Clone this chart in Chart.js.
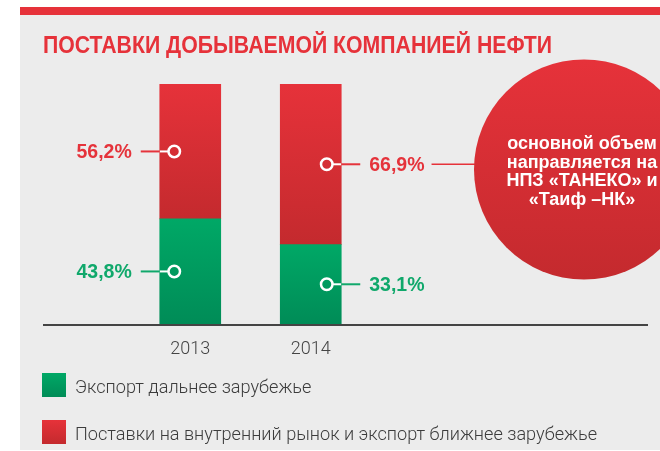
<!DOCTYPE html>
<html>
<head>
<meta charset="utf-8">
<script src="https://cdn.jsdelivr.net/npm/chart.js@4"></script>
<style>
  html, body { margin: 0; padding: 0; background: #fff; }
  canvas { display: block; }
</style>
</head>
<body>
<canvas id="chart" width="660" height="451"></canvas>
<script>
// === Data ===
const years = ['2013', '2014'];
const exportFar = [43.8, 33.1];
const domesticNear = [56.2, 66.9];
const seriesNames = ['Экспорт дальнее зарубежье', 'Поставки на внутренний рынок и экспорт ближнее зарубежье'];
const chartTitle = 'ПОСТАВКИ ДОБЫВАЕМОЙ КОМПАНИЕЙ НЕФТИ';
const calloutLines = ['основной объем', 'направляется на', 'НПЗ «ТАНЕКО» и', '«Таиф –НК»'];

// === Colours ===
const RED_TOP = '#e6323a', RED_BOTTOM = '#c42a2e', RED_TEXT = '#e5333b';
const GREEN_TOP = '#00a866', GREEN_BOTTOM = '#008c57', GREEN_TEXT = '#10a86b';
const seriesColors = [[GREEN_TOP, GREEN_BOTTOM], [RED_TOP, RED_BOTTOM]];
const textColors = [GREEN_TEXT, RED_TEXT];

const fmt = v => v.toFixed(1).replace('.', ',') + '%';

// gradient for one stacked segment, top to bottom of that segment
function segmentFill(c) {
    const [top, bottom] = seriesColors[c.datasetIndex];
    const chart = c.chart;
    if (c.type !== 'data' || !chart.chartArea) return top;
    const y = chart.scales.y;
    const i = c.dataIndex;
    const start = c.datasetIndex === 0 ? 0 : exportFar[i];
    const end = start + chart.data.datasets[c.datasetIndex].data[i];
    const g = chart.ctx.createLinearGradient(0, y.getPixelForValue(end), 0, y.getPixelForValue(start));
    g.addColorStop(0, top);
    g.addColorStop(1, bottom);
    return g;
}

// draws text squeezed/stretched horizontally by a factor
function scaledText(ctx, text, x, y, sx) {
    ctx.save();
    ctx.translate(x, y);
    ctx.scale(sx, 1);
    ctx.fillText(text, 0, 0);
    ctx.restore();
}

const decor = {
    id: 'decor',
    beforeDraw(chart) {
        const ctx = chart.ctx;
        ctx.save();
        ctx.fillStyle = '#ffffff';
        ctx.fillRect(0, 0, chart.width, chart.height);
        ctx.fillStyle = '#ececec';
        ctx.fillRect(20, 15, chart.width - 20, chart.height - 16);
        ctx.fillStyle = RED_TOP;
        ctx.fillRect(20, 7, chart.width - 20, 8);

        // title
        ctx.fillStyle = RED_TOP;
        ctx.font = 'bold 23px "Liberation Sans", Arial, sans-serif';
        ctx.textBaseline = 'alphabetic';
        scaledText(ctx, chartTitle, 43, 53, 509 / ctx.measureText(chartTitle).width);
        ctx.restore();
    },
    afterDatasetsDraw(chart) {
        const ctx = chart.ctx;
        const xs = chart.scales.x, ys = chart.scales.y;
        const area = chart.chartArea;
        ctx.save();

        // baseline axis
        ctx.strokeStyle = '#444';
        ctx.lineWidth = 2;
        ctx.beginPath();
        ctx.moveTo(43, area.bottom + 1);
        ctx.lineTo(648, area.bottom + 1);
        ctx.stroke();

        // value callouts
        const labelPoints = [];
        chart.data.datasets.forEach((ds, d) => {
            const meta = chart.getDatasetMeta(d);
            ds.data.forEach((v, i) => {
                const bar = meta.data[i];
                const start = d === 0 ? 0 : exportFar[i];
                const y = ys.getPixelForValue(start + v / 2);
                const side = i === 0 ? -1 : 1;
                const cx = xs.getPixelForValue(i) + side * 16;
                const edge = bar.x + side * bar.width / 2;
                const r = 5.75;

                ctx.lineWidth = 2;
                ctx.strokeStyle = '#fff';
                ctx.beginPath();
                ctx.moveTo(cx + side * r, y);
                ctx.lineTo(edge, y);
                ctx.stroke();

                ctx.strokeStyle = textColors[d];
                ctx.beginPath();
                ctx.moveTo(edge, y);
                ctx.lineTo(edge + side * 19, y);
                ctx.stroke();

                ctx.lineWidth = 2.5;
                ctx.strokeStyle = '#fff';
                ctx.beginPath();
                ctx.arc(cx, y, r, 0, Math.PI * 2);
                ctx.stroke();

                ctx.fillStyle = textColors[d];
                ctx.font = 'bold 19.5px "Liberation Sans", Arial, sans-serif';
                ctx.textBaseline = 'middle';
                ctx.textAlign = side < 0 ? 'right' : 'left';
                const tx = edge + side * 28;
                ctx.fillText(fmt(v), tx, y + 1);
                labelPoints.push({ d, i, y, right: tx + ctx.measureText(fmt(v)).width });
            });
        });

        // big circle callout, linked to the 2014 domestic value
        const cxB = 584, cyB = 169.5, rB = 110;
        const link = labelPoints.find(p => p.d === 1 && p.i === 1);
        ctx.strokeStyle = RED_TOP;
        ctx.lineWidth = 1.5;
        ctx.beginPath();
        ctx.moveTo(link.right + 7, link.y);
        ctx.lineTo(cxB - rB + 2, link.y);
        ctx.stroke();

        const g = ctx.createLinearGradient(0, cyB - rB, 0, cyB + rB);
        g.addColorStop(0, RED_TOP);
        g.addColorStop(1, RED_BOTTOM);
        ctx.fillStyle = g;
        ctx.beginPath();
        ctx.arc(cxB, cyB, rB, 0, Math.PI * 2);
        ctx.fill();

        ctx.fillStyle = '#fff';
        ctx.font = 'bold 18px "Liberation Sans", Arial, sans-serif';
        ctx.textAlign = 'center';
        ctx.textBaseline = 'alphabetic';
        calloutLines.forEach((line, k) => ctx.fillText(line, 582, 149 + k * 18.7));

        // legend
        ctx.textAlign = 'left';
        ctx.font = '300 19px Roboto, "Liberation Sans", sans-serif';
        const squeeze = 522 / ctx.measureText(seriesNames[1]).width;
        seriesNames.forEach((name, k) => {
            const top = 373 + k * 47;
            const lg = ctx.createLinearGradient(0, top, 0, top + 24);
            lg.addColorStop(0, seriesColors[k][0]);
            lg.addColorStop(1, seriesColors[k][1]);
            ctx.fillStyle = lg;
            ctx.fillRect(42, top, 24, 24);
            ctx.fillStyle = '#3c3c3c';
            scaledText(ctx, name, 75, top + 20, squeeze);
        });
        ctx.restore();
    }
};

new Chart(document.getElementById('chart'), {
    type: 'bar',
    data: {
        labels: years,
        datasets: [
            { label: seriesNames[0], data: exportFar, backgroundColor: segmentFill, borderWidth: 0 },
            { label: seriesNames[1], data: domesticNear, backgroundColor: segmentFill, borderWidth: 0 }
        ]
    },
    options: {
        responsive: false,
        animation: false,
        layout: { padding: { left: 130, right: 289, top: 84, bottom: 0 } },
        datasets: { bar: { barThickness: 61, categoryPercentage: 1 } },
        plugins: { legend: { display: false }, tooltip: { enabled: false } },
        scales: {
            x: {
                stacked: true,
                grid: { display: false, drawTicks: false },
                border: { display: false },
                ticks: { color: '#444', font: { family: 'Roboto', size: 18, weight: '300' }, padding: 15 },
                afterFit: s => { s.height = 451 - 324; }
            },
            y: { stacked: true, display: false, min: 0, max: 100 }
        }
    },
    plugins: [decor]
});
</script>
</body>
</html>
